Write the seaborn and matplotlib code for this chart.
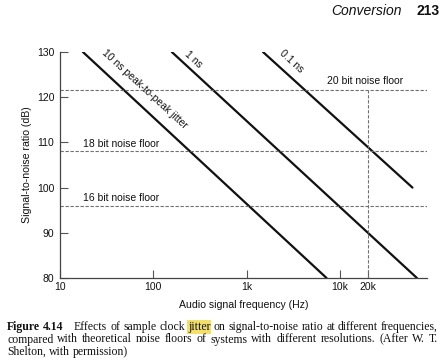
import numpy as np
import pandas as pd
import matplotlib
matplotlib.use("Agg")
import matplotlib.pyplot as plt
import seaborn as sns

# ---- data ----
jitter_labels = ["10 ns peak-to-peak jitter", "1 ns", "0.1 ns"]
jitter_freq = [[17.6, 7200], [158, 67000], [1500, 60000]]
jitter_snr = [[130, 80], [130, 80], [130, 100]]

noise_labels = ["20 bit noise floor", "18 bit noise floor", "16 bit noise floor"]
noise_db = [121.5, 108.0, 96.0]
marker_freq = 20000  # vertical dashed line at 20 kHz

x_ticks = [10, 100, 1000, 10000, 20000]
x_tick_labels = ["10", "100", "1k", "10k", "20k"]
y_ticks = [80, 90, 100, 110, 120, 130]

rows = []
for lab, fs, ss in zip(jitter_labels, jitter_freq, jitter_snr):
    for f, s in zip(fs, ss):
        rows.append({"series": lab, "freq": f, "snr": s})
df = pd.DataFrame(rows)

sns.set_style("ticks")
plt.rcParams["font.family"] = ["Liberation Sans", "DejaVu Sans"]

W, H = 446, 362
fig = plt.figure(figsize=(W / 100, H / 100), dpi=100)
fig.patch.set_facecolor("white")

def px(x, y):
    return x / W, 1 - y / H

ax = fig.add_axes([60 / W, 1 - 278 / H, (427 - 60) / W, (278 - 52) / H])
ax.set_facecolor("white")

sns.lineplot(data=df, x="freq", y="snr", hue="series", units="series",
             estimator=None, palette=["#111111"] * 3, legend=False,
             linewidth=1.6, ax=ax, sort=False)

ax.set_xscale("log")
ax.set_xlim(10, 85900)
ax.set_ylim(80, 130)

dash = dict(color="#707070", linewidth=0.8, linestyles=(0, (3, 1.5)))
ax.hlines(noise_db, 10, 85900, **dash)
ax.vlines([marker_freq], 80, noise_db[0], **dash)

ax.set_xticks(x_ticks)
ax.set_xticklabels(x_tick_labels)
ax.xaxis.set_minor_locator(matplotlib.ticker.NullLocator())
ax.set_yticks(y_ticks)
ax.tick_params(direction="in", length=5.5, width=0.8, color="#555555",
               labelsize=7.5, labelcolor="#111111", pad=4)
ax.tick_params(axis="x", pad=3)

sns.despine(ax=ax)
for s in ["left", "bottom"]:
    ax.spines[s].set_color("#444444")
    ax.spines[s].set_linewidth(0.9)

ax.set_xlabel("")
ax.set_ylabel("")
fig.text(*px(244, 305), "Audio signal frequency (Hz)", ha="center", va="center",
         fontsize=7.6, color="#111111")
fig.text(*px(27, 165), "Signal-to-noise ratio (dB)", ha="center", va="center",
         rotation=90, fontsize=7.6, color="#111111")

# noise-floor labels
fig.text(*px(327, 81), noise_labels[0], ha="left", va="center", fontsize=7.5, color="#111111")
fig.text(*px(83, 144), noise_labels[1], ha="left", va="center", fontsize=7.5, color="#111111")
fig.text(*px(83, 198), noise_labels[2], ha="left", va="center", fontsize=7.5, color="#111111")

# jitter labels along lines
fig.text(*px(145, 89), jitter_labels[0], ha="center", va="center", rotation=-42.5,
         rotation_mode="anchor", fontsize=7.5, color="#111111")
fig.text(*px(193, 59), jitter_labels[1], ha="center", va="center", rotation=-42.5,
         rotation_mode="anchor", fontsize=7.5, color="#111111")
fig.text(*px(291, 61), jitter_labels[2], ha="center", va="center", rotation=-42.5,
         rotation_mode="anchor", fontsize=7.5, color="#111111")

# page header
fig.text(*px(402, 11), "Conversion", ha="right", va="center", fontsize=10,
         style="italic", color="#111111")
fig.text(*px(440, 11), "213", ha="right", va="center", fontsize=10,
         fontweight="bold", color="#111111")

# caption (justified, word by word)
renderer = fig.canvas.get_renderer()
cap_fs = 8.5
serif = "Liberation Serif"

def width_px(s, **kw):
    t = fig.text(0, 0, s, fontsize=cap_fs, family=serif, **kw)
    w = t.get_window_extent(renderer).width
    t.remove()
    return w

sp = width_px("a a") - width_px("aa")

def caption_line(tokens, y, x0=7, x1=438, justify=True):
    widths = [width_px(t, **kw) for t, kw, _ in tokens]
    extras = sum(g for _, _, g in tokens[:-1])
    n = len(tokens)
    if justify and n > 1:
        gap = (x1 - x0 - sum(widths) - extras) / (n - 1)
    else:
        gap = sp
    x = x0
    for (t, kw, g), w in zip(tokens, widths):
        fig.text(x / W, 1 - y / H, t, fontsize=cap_fs, family=serif,
                 va="baseline", ha="left", color="#111111", **kw)
        x += w + gap + g

def words(s):
    return [(w, {}, 0) for w in s.split()]

hl = dict(bbox=dict(facecolor="#f3e06a", edgecolor="none", pad=0.6))
line1 = ([("Figure", dict(fontweight="bold"), 0),
          ("4.14", dict(fontweight="bold"), 2.5 * sp)]
         + words("Effects of sample clock")
         + [("jitter", hl, 0)]
         + words("on signal-to-noise ratio at different frequencies,"))
line2 = words("compared with theoretical noise floors of systems with different resolutions. (After W. T.")
line3 = words("Shelton, with permission)")

caption_line(line1, 330)
caption_line(line2, 342.5)
caption_line(line3, 355, justify=False)

fig.savefig("out.png", dpi=100, facecolor="white")
